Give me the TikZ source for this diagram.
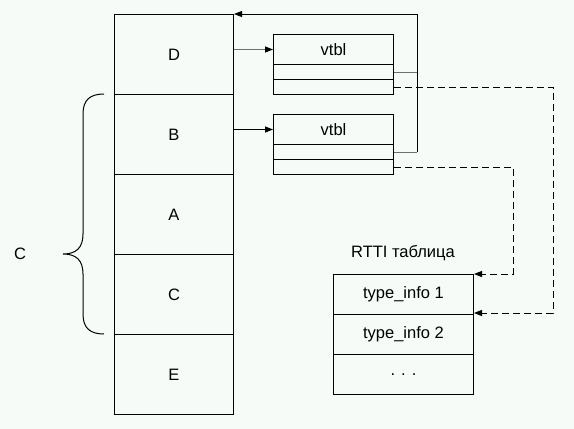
\documentclass[tikz,border=0pt]{standalone}
\usepackage{fontspec}
\setmainfont{Liberation Sans}
\usetikzlibrary{arrows.meta}
\definecolor{bgc}{RGB}{246,251,248}
\definecolor{lgray}{RGB}{112,112,112}
\begin{document}
\begin{tikzpicture}[x=1pt,y=-1pt,
  font=\fontsize{16.5}{19}\selectfont,
  cell/.style={draw=black, line width=1pt, minimum width=119pt, minimum height=80pt, inner sep=0pt, anchor=north west},
  vrow/.style={draw=black, line width=1pt, minimum width=120pt, inner sep=0pt, anchor=north west},
  trow/.style={draw=black, line width=1pt, minimum width=140pt, minimum height=40pt, inner sep=0pt, anchor=north west},
  tip/.style={-{Triangle[length=8pt,width=6pt,color=black]}},
  conn/.style={line width=1pt},
  dconn/.style={line width=1pt, dash pattern=on 7pt off 4pt}
]
\fill[bgc] (0,0) rectangle (574,429);
\useasboundingbox (0,0) rectangle (574,429);

% main column
\node[cell] (D) at (114,14) {D};
\node[cell] (B) at (114,94) {B};
\node[cell] (A) at (114,174) {A};
\node[cell] (C) at (114,254) {C};
\node[cell] (E) at (114,334) {E};

% vtbl 1
\node[vrow, minimum height=30pt] (v1t) at (273,34) {vtbl};
\node[vrow, minimum height=15pt] (v1a) at (273,64) {};
\node[vrow, minimum height=15pt] (v1b) at (273,79) {};
% vtbl 2
\node[vrow, minimum height=30pt] (v2t) at (273,114) {vtbl};
\node[vrow, minimum height=15pt] (v2a) at (273,144) {};
\node[vrow, minimum height=15pt] (v2b) at (273,159) {};

% RTTI table
\node (rl) at (403,253) {RTTI таблица};
\node[trow] (T1) at (333,274) {type\_info 1};
\node[trow] (T2) at (333,314) {type\_info 2};
\node[trow] (T3) at (333,354) {. . .};

% pointers to vtbl
\draw[conn, lgray, tip] (D.east |- v1t.west) -- (v1t.west);
\draw[conn, black, tip] (B.east |- v2t.west) -- (v2t.west);

% return lines
\coordinate (r1) at (417,14);
\draw[conn, lgray] (v1a.east) -- (v1a.east -| r1);
\draw[conn, lgray] (v2a.east) -- (v2a.east -| r1);
\draw[conn, black, tip] (v2a.east -| r1) -- (r1) -- (D.north east);

% dashed lines to RTTI
\coordinate (d1) at (553,0);
\coordinate (d2) at (513,0);
\draw[dconn, tip] (v1b.east) -- (v1b.east -| d1) |- ([yshift=2pt]T1.south east);
\draw[dconn, tip] (v2b.east) -- (v2b.east -| d2) |- (T1.north east);

% brace
\draw[line width=1pt] (104,94) .. controls (90,94) and (83,100) .. (83,114) -- (83,234)
  .. controls (83,248) and (76,254) .. (63,254)
  .. controls (76,254) and (83,260) .. (83,274) -- (83,314)
  .. controls (83,328) and (90,334) .. (104,334);
\node (bl) at (20,254) {C};
\end{tikzpicture}
\end{document}
